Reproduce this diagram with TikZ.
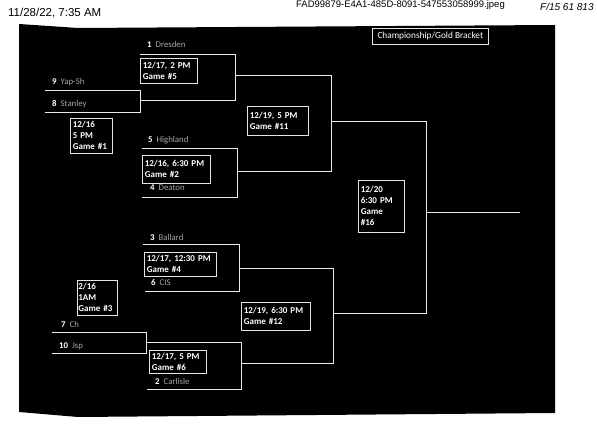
\documentclass[tikz,border=0pt]{standalone}
\usepackage{fontspec}
\setmainfont{Carlito}
\newfontfamily\arialf{Liberation Sans}
\begin{document}
\begin{tikzpicture}[x=1pt,y=-1pt,
  wline/.style={draw=white!92!black,line width=0.8pt},
  gbox/.style={draw=white!90!black,line width=0.7pt,text=white,font=\bfseries\fontsize{9}{11}\selectfont,
    align=left,inner xsep=2.5pt,inner ysep=1.5pt,anchor=north west},
  team/.style={text=white!65!black,font=\fontsize{8.8}{10}\selectfont,anchor=west,inner sep=0pt},
  hdr/.style={text=black,font=\arialf\fontsize{9.5}{11}\selectfont,inner sep=0pt}]
\useasboundingbox (0,0) rectangle (597,435);
\fill[white] (0,0) rectangle (597,435);
% scanned black sheet
\fill[black] (19,24) -- (78,28) -- (555,25) -- (555,413) -- (78,417) -- (19,412) -- cycle;
% header
\node[hdr,anchor=west,font=\arialf\fontsize{11.5}{12}\selectfont] (hdate) at (8,13) {11/28/22, 7:35 AM};
\node[hdr,anchor=west] (hfile) at (296,5) {FAD99879-E4A1-485D-8091-547553058999.jpeg};
\node[hdr,anchor=west,font=\arialf\itshape\fontsize{10}{11}\selectfont] (hhand) at (540,7) {F/15 61 813};
% title
\node[gbox,font=\fontsize{9.3}{10}\selectfont,minimum width=116,minimum height=16,anchor=north west,inner ysep=1pt] (title) at (372,28) {Championship/Gold Bracket};
% coordinates
\coordinate (g1a) at (45,90);   \coordinate (g1b) at (140,90);
\coordinate (g1c) at (140,112); \coordinate (g1d) at (45,112);
\coordinate (g1o) at (140,100);
\coordinate (g5a) at (140,54);  \coordinate (g5b) at (235,54);
\coordinate (g5c) at (235,100); \coordinate (g5o) at (235,75);
\coordinate (g2a) at (142,148); \coordinate (g2b) at (237,148);
\coordinate (g2c) at (237,197); \coordinate (g2d) at (142,197);
\coordinate (g2o) at (237,171);
\coordinate (g11a) at (331,75); \coordinate (g11b) at (331,171);
\coordinate (g11o) at (331,121);
\coordinate (g4a) at (143,244); \coordinate (g4b) at (239,244);
\coordinate (g4c) at (239,291); \coordinate (g4d) at (145,291);
\coordinate (g4o) at (239,268);
\coordinate (g3a) at (52,332);  \coordinate (g3b) at (146,332);
\coordinate (g3c) at (146,353); \coordinate (g3d) at (52,353);
\coordinate (g3o) at (146,342);
\coordinate (g6b) at (241,342); \coordinate (g6c) at (241,389);
\coordinate (g6d) at (147,389); \coordinate (g6o) at (241,363);
\coordinate (g12a) at (333,268); \coordinate (g12b) at (333,363);
\coordinate (g12o) at (333,313);
\coordinate (g16a) at (426,121); \coordinate (g16b) at (426,313);
\coordinate (g16o) at (426,212); \coordinate (fin) at (520,212);
% bracket lines
\draw[wline] (g1a) -- (g1b) -- (g1c) -- (g1d);
\draw[wline] (g5a) -- (g5b) -- (g5c) -- (g1o);
\draw[wline] (g2a) -- (g2b) -- (g2c) -- (g2d);
\draw[wline] (g5o) -- (g11a) -- (g11b) -- (g2o);
\draw[wline] (g11o) -- (g16a) -- (g16b) -- (g12o);
\draw[wline] (g16o) -- (fin);
\draw[wline] (g4a) -- (g4b) -- (g4c) -- (g4d);
\draw[wline] (g3a) -- (g3b) -- (g3c) -- (g3d);
\draw[wline] (g3o) -- (g6b) -- (g6c) -- (g6d);
\draw[wline] (g4o) -- (g12a) -- (g12b) -- (g6o);
% game boxes
\node[gbox,text width=52,minimum height=25] (b5) at (140,58) {12/17, 2 PM\\Game \#5};
\node[gbox,text width=37,minimum height=35] (b1) at (70,118) {12/16\\5 PM\\Game \#1};
\node[gbox,text width=63,minimum height=28] (b2) at (142,155) {12/16, 6:30 PM\\Game \#2};
\node[gbox,text width=56,minimum height=29] (b11) at (247,106) {12/19, 5 PM\\Game \#11};
\node[gbox,text width=41,minimum height=52] (b16) at (358,180) {12/20\\6:30 PM\\Game\\\#16};
\node[gbox,text width=67,minimum height=24] (b4) at (144,252) {12/17, 12:30 PM\\Game \#4};
\node[gbox,text width=38,inner xsep=1pt,minimum height=35] (b3) at (77,280) {2/16\\1AM\\Game \#3};
\node[gbox,text width=52,minimum height=23] (b6) at (149,350) {12/17, 5 PM\\Game \#6};
\node[gbox,text width=64,minimum height=28] (b12) at (241,302) {12/19, 6:30 PM\\Game \#12};
% teams
\node[team] (t1) at (147,44) {\textcolor{white}{\textbf{1}}\ \ Dresden};
\node[team] (t9) at (52,82) {\textcolor{white}{\textbf{9}}\ \ Yap-Sh};
\node[team] (t8) at (52,104) {\textcolor{white}{\textbf{8}}\ \ Stanley};
\node[team] (t5) at (148,140) {\textcolor{white}{\textbf{5}}\ \ Highland};
\node[team] (t4) at (150,188) {\textcolor{white}{\textbf{4}}\ \ Deaton};
\node[team] (t3) at (150,237) {\textcolor{white}{\textbf{3}}\ \ Ballard};
\node[team] (t6) at (151,283) {\textcolor{white}{\textbf{6}}\ \ CIS};
\node[team] (t7) at (61,324) {\textcolor{white}{\textbf{7}}\ \ Ch};
\node[team] (t10) at (59,346) {\textcolor{white}{\textbf{10}}\ \ Jsp};
\node[team] (t2) at (155,381) {\textcolor{white}{\textbf{2}}\ \ Carlisle};
\end{tikzpicture}
\end{document}
